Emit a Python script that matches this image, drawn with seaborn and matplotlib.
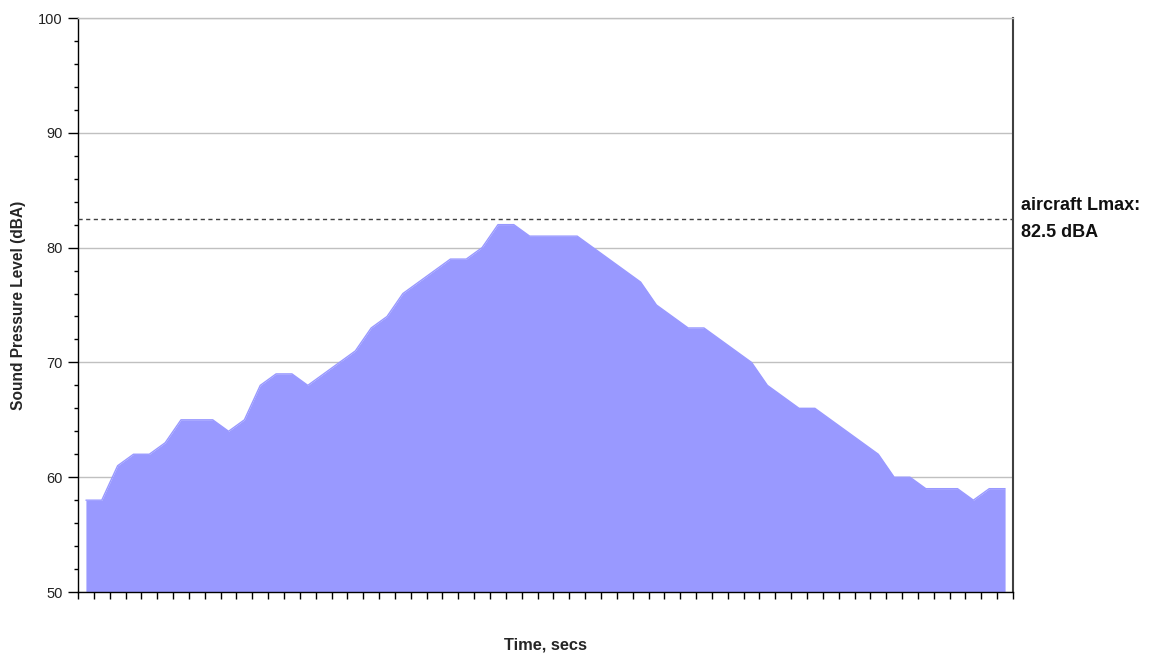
import matplotlib
matplotlib.use("Agg")
import matplotlib.pyplot as plt
import numpy as np
import pandas as pd
import seaborn as sns
from matplotlib.ticker import FixedLocator, MultipleLocator, NullFormatter

# Sound pressure level per second during the aircraft flyover (dBA)
spl_dba = [58, 58, 61, 62, 62, 63, 65, 65, 65, 64, 65, 68, 69, 69, 68, 69, 70, 71, 73,
           74, 76, 77, 78, 79, 79, 80, 82, 82, 81, 81, 81, 81, 80, 79, 78, 77, 75, 74, 73,
           73, 72, 71, 70, 68, 67, 66, 66, 65, 64, 63, 62, 60, 60, 59, 59, 59, 58, 59, 59]
seconds = list(range(len(spl_dba)))

lmax_dba = 82.5
lmax_text = ["aircraft Lmax:", f"{lmax_dba} dBA"]
y_major_ticks = [50, 60, 70, 80, 90, 100]

df = pd.DataFrame({"second": seconds, "spl": spl_dba})

sns.set_theme(style="white")
plt.rcParams["font.family"] = ["Liberation Sans", "DejaVu Sans"]

W, H = 1162, 655
fig = plt.figure(figsize=(W / 100, H / 100), dpi=100)
ax = fig.add_axes([78 / W, 1 - 592 / H, 935 / W, 574 / H])

area_color = "#9999ff"
ax.fill_between(df["second"], df["spl"], y_major_ticks[0], color=area_color, lw=0, zorder=2)
sns.lineplot(data=df, x="second", y="spl", ax=ax, color=area_color, lw=1, zorder=2)

# Lmax reference line
ax.axhline(lmax_dba, color="#404040", lw=1, ls=(0, (3, 2.5)), zorder=3)

ax.set_xlim(-0.5, len(seconds) - 0.5)
ax.set_ylim(y_major_ticks[0], y_major_ticks[-1])

# category-style ticks between the seconds, no labels
ax.xaxis.set_major_locator(FixedLocator(np.arange(-0.5, len(seconds), 1.0)))
ax.xaxis.set_major_formatter(NullFormatter())
ax.yaxis.set_major_locator(FixedLocator(y_major_ticks))
ax.yaxis.set_minor_locator(MultipleLocator(2))

ax.tick_params(axis="x", which="major", bottom=True, direction="out", length=5,
               width=1, color="black")
ax.tick_params(axis="y", which="major", left=True, direction="out", length=7,
               width=1, color="black", labelsize=10.5, labelcolor="#222222", pad=4)
ax.tick_params(axis="y", which="minor", left=True, direction="out", length=3,
               width=1, color="black")

ax.yaxis.grid(True, which="major", color="#c0c0c0", lw=1)
ax.set_axisbelow(True)

for side in ("left", "bottom"):
    ax.spines[side].set_color("black")
    ax.spines[side].set_linewidth(1)
ax.spines["top"].set_color("#c0c0c0")
ax.spines["top"].set_linewidth(1)
ax.spines["right"].set_color("#404040")
ax.spines["right"].set_linewidth(1.5)

ax.set_ylabel("Sound Pressure Level (dBA)", fontsize=11.2, fontweight="bold", va="center")
ax.yaxis.set_label_coords((19 - 78) / 935, 0.5)
ax.set_xlabel("Time, secs", fontsize=11.8, fontweight="bold", va="center")
ax.xaxis.set_label_coords(0.4995, (592 - 645) / 574)

fig.text(1021 / W, 1 - 205 / H, lmax_text[0], fontsize=13, fontweight="bold",
         ha="left", va="center", color="#111111")
fig.text(1021 / W, 1 - 232 / H, lmax_text[1], fontsize=13, fontweight="bold",
         ha="left", va="center", color="#111111")

fig.savefig("out.png", dpi=100, facecolor="white")
